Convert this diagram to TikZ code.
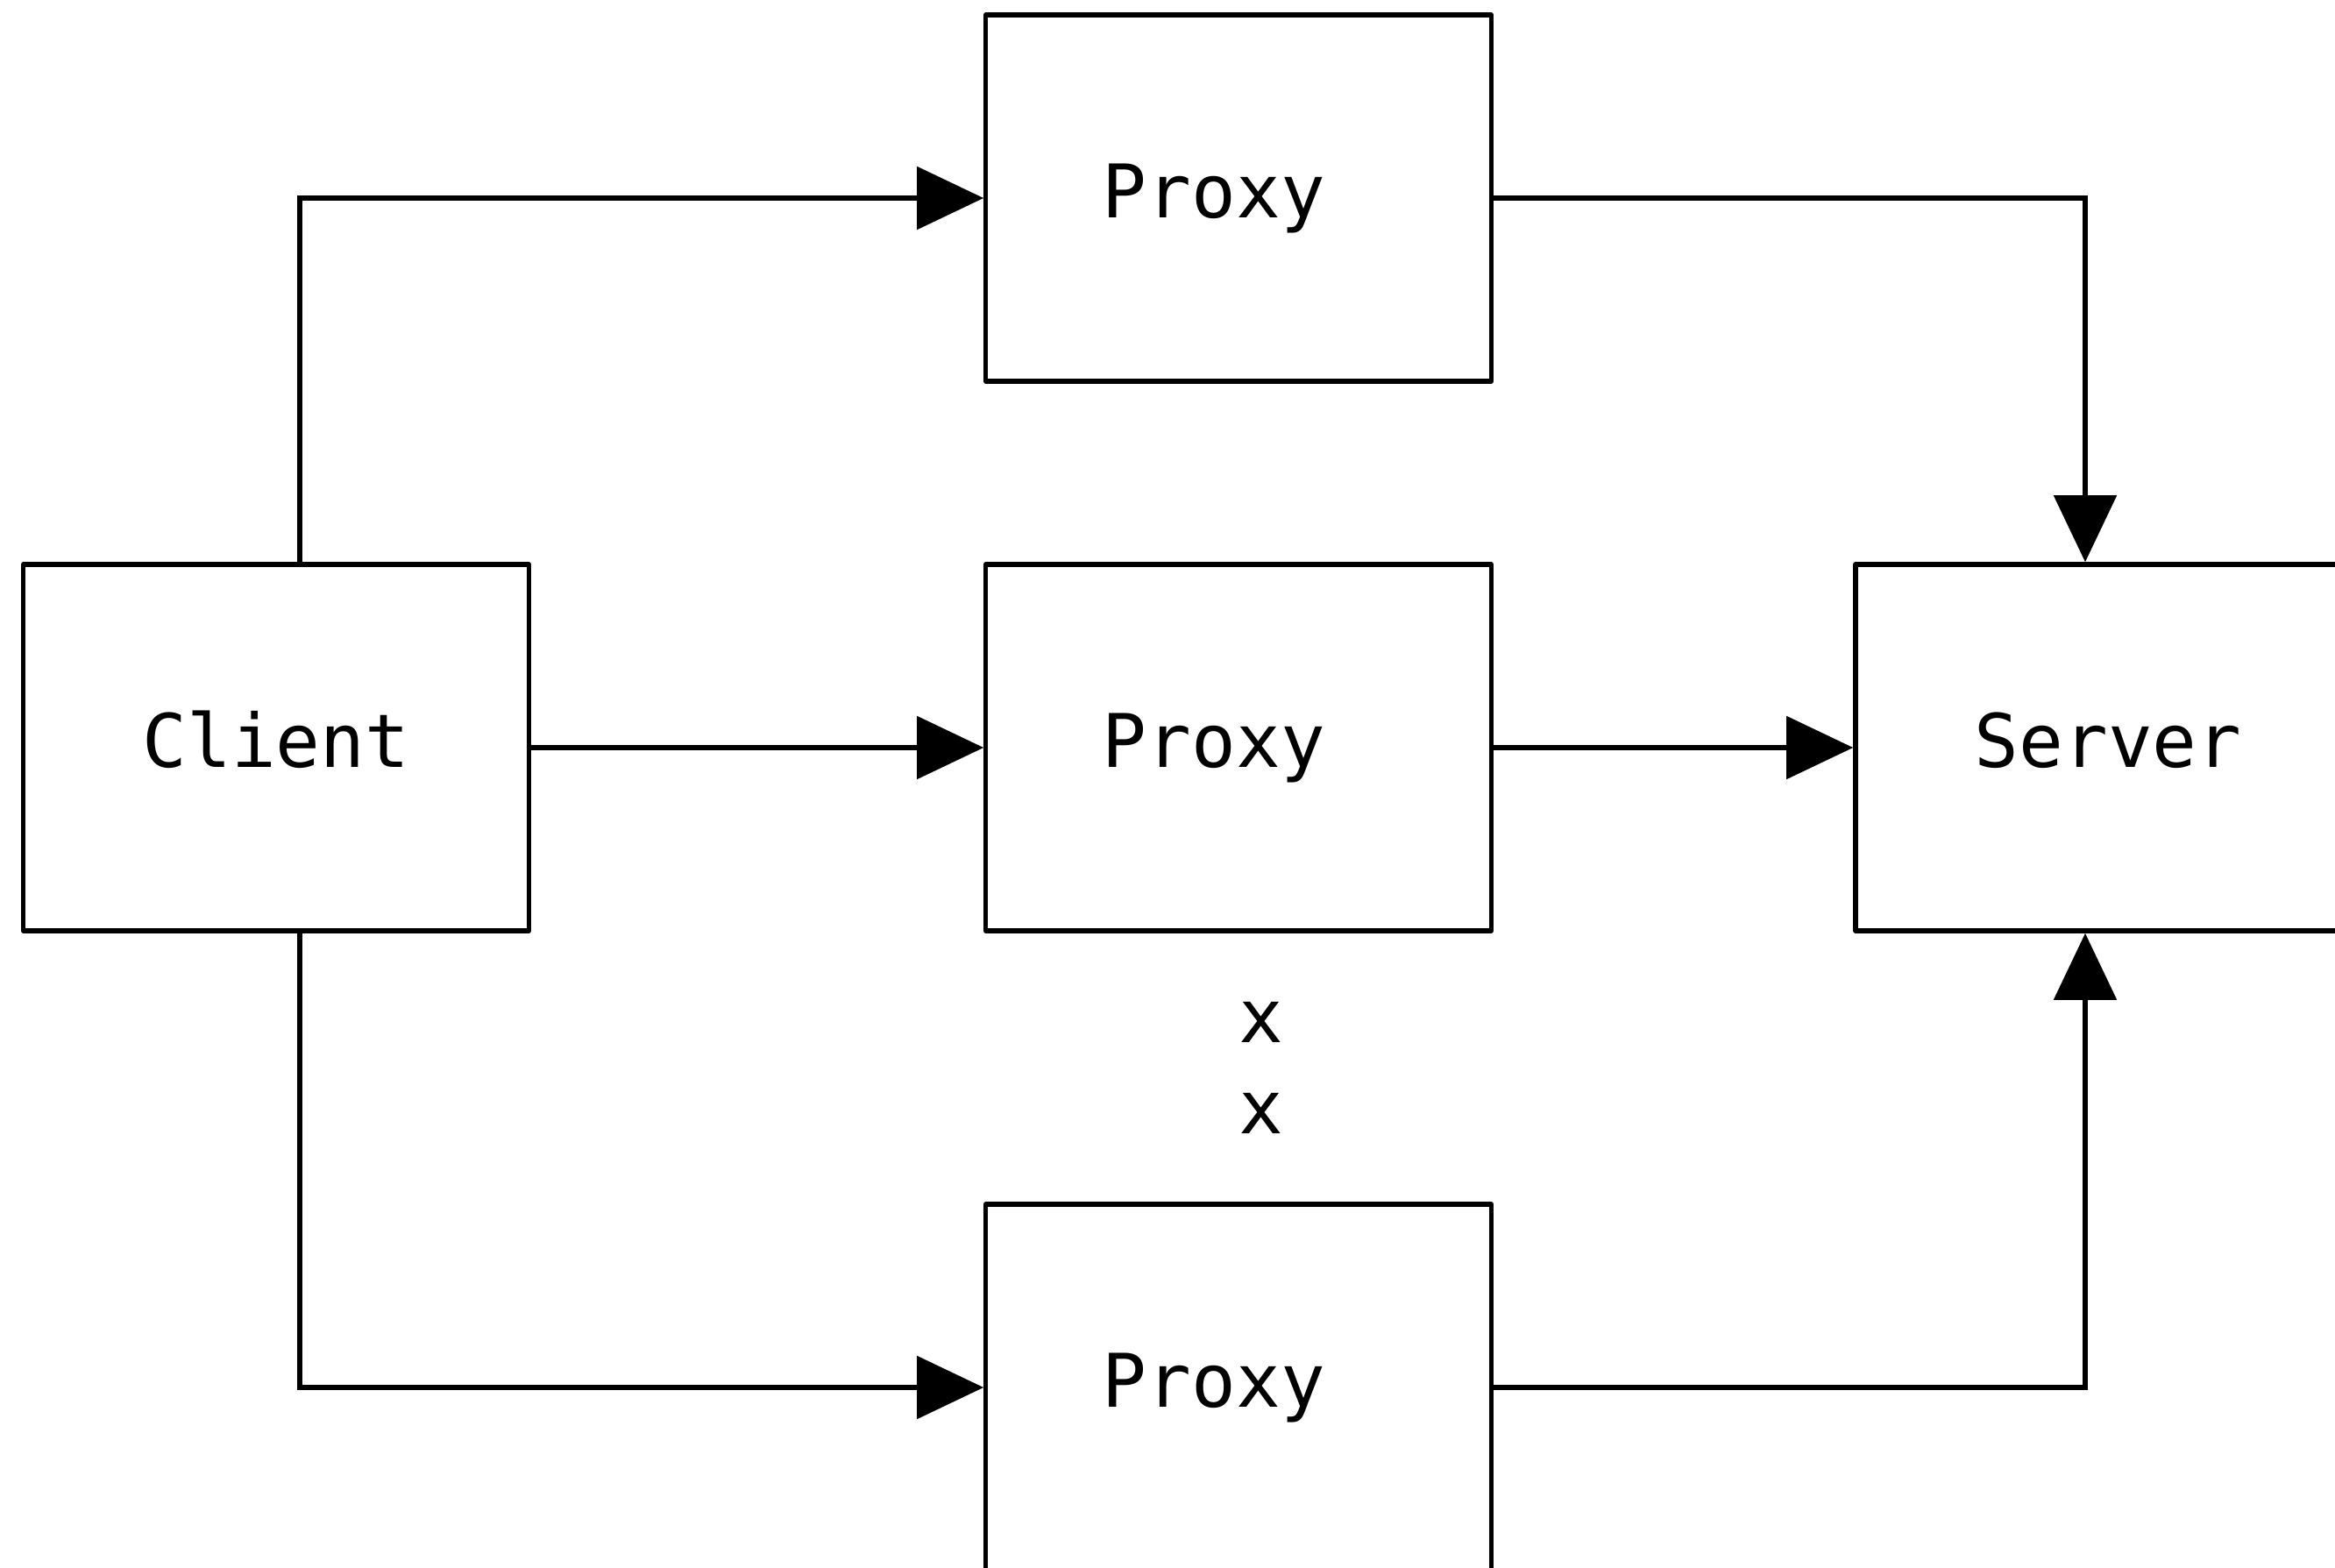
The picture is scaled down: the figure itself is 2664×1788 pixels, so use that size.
\documentclass[tikz,border=0pt]{standalone}
\usepackage{fontspec}
\setmonofont{DejaVu Sans Mono}
\usetikzlibrary{arrows.meta}
\tikzset{
  box/.style={draw, line width=1.5pt, line join=round, minimum width=5.76cm,
    minimum height=4.18cm, inner sep=0pt, text height=1.3em, text depth=0pt,
    font=\ttfamily\fontsize{24}{29}\selectfont},
  dots/.style={inner sep=0pt, text height=1.15em, text depth=0pt,
    font=\ttfamily\fontsize{24}{29}\selectfont},
  arr/.style={line width=1.5pt, -{Triangle[length=0.76cm, width=0.71cm]}},
  link/.style={line width=1.5pt}
}
\begin{document}
\begin{tikzpicture}[x=0.01cm, y=-0.01cm]
  \clip (0,0) rectangle (2664,1788);
  \fill[white] (0,0) rectangle (2664,1788);

  % boxes
  \node[box] (client) at (315,853) {Client};
  \node[box] (p1) at (1413,226) {Proxy\hspace*{0.56cm}};
  \node[box] (p2) at (1413,853) {Proxy\hspace*{0.56cm}};
  \node[box] (p3) at (1413,1583) {Proxy\hspace*{0.56cm}};
  \node[box] (srv) at (2405,853) {Server};

  % elided proxies
  \node[dots] (d1) at (1439,1169) {x};
  \node[dots] (d2) at (1439,1273) {x};

  % client to proxies
  \draw[arr] ([xshift=0.27cm]client.north) |- (p1.west);
  \draw[arr] (client.east) -- (p2.west);
  \draw[arr] ([xshift=0.27cm]client.south) |- (p3.west);

  % proxies to server
  \draw[arr] (p1.east) -| ([xshift=-0.26cm]srv.north);
  \draw[arr] (p2.east) -- (srv.west);
  \draw[arr] (p3.east) -| ([xshift=-0.26cm]srv.south);
\end{tikzpicture}
\end{document}
